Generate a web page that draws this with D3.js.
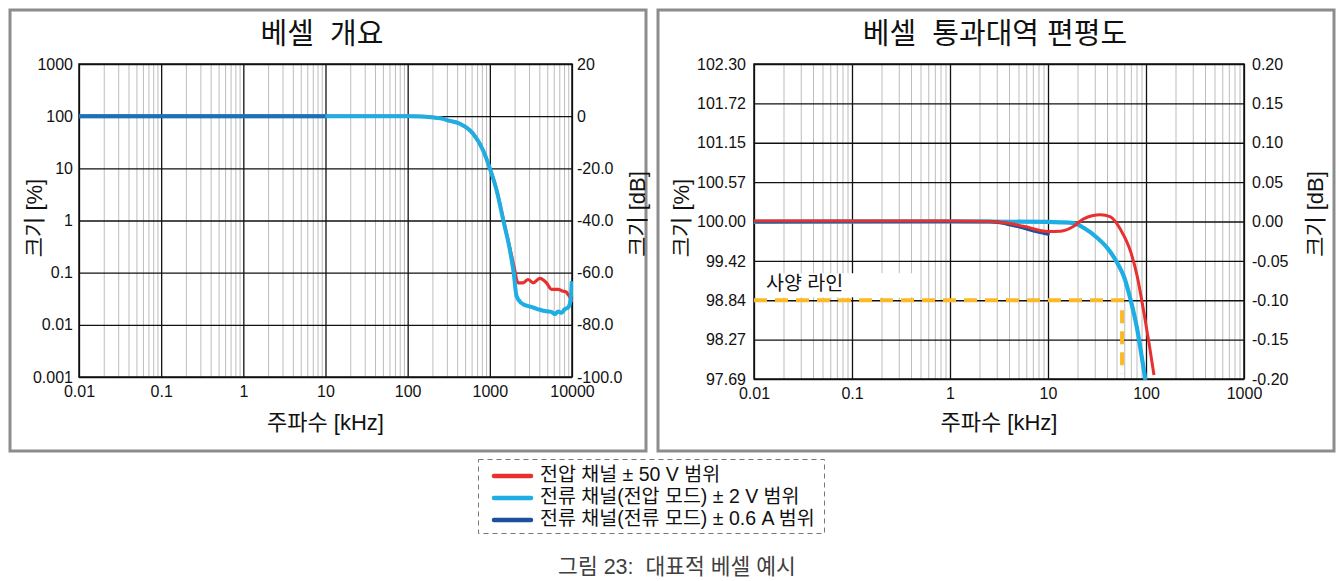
<!DOCTYPE html>
<html><head><meta charset="utf-8">
<script src="https://cdn.jsdelivr.net/npm/d3@7"></script>
<style>
body{margin:0;background:#fff;}
svg text{font-family:"Liberation Sans",Arial,"Noto Sans CJK KR",sans-serif;fill:#111;white-space:pre;}
</style></head><body><svg id="c" width="1339" height="581"></svg>
<script>
// ---------- data ----------
const leftFreqTicks = [0.01, 0.1, 1, 10, 100, 1000, 10000];
const leftFreqLabels = ["0.01", "0.1", "1", "10", "100", "1000", "10000"];
const leftPctTicks = [1000, 100, 10, 1, 0.1, 0.01, 0.001];
const leftPctLabels = ["1000", "100", "10", "1", "0.1", "0.01", "0.001"];
const leftDbTicks = [20, 0, -20, -40, -60, -80, -100];
const leftDbLabels = ["20", "0", "-20.0", "-40.0", "-60.0", "-80.0", "-100.0"];

const rightFreqTicks = [0.01, 0.1, 1, 10, 100, 1000];
const rightFreqLabels = ["0.01", "0.1", "1", "10", "100", "1000"];
const rightDbTicks = [0.2, 0.15, 0.1, 0.05, 0, -0.05, -0.1, -0.15, -0.2];
const rightDbLabels = ["0.20", "0.15", "0.10", "0.05", "0.00", "-0.05", "-0.10", "-0.15", "-0.20"];
const rightPctLabels = ["102.30", "101.72", "101.15", "100.57", "100.00", "99.42", "98.84", "98.27", "97.69"];

// overview (kHz, %)
const ovRedFreq = [0.01, 1, 10, 100, 142, 205, 270, 310, 431, 627, 829, 1000, 1207, 1453, 1750, 2013, 2110, 2210, 2540, 2920, 3367, 4058, 4893, 5630, 6780, 7800, 8400, 8970, 9600, 10000];
const ovRedPct  = [100, 100, 100, 99.8, 99, 94.5, 89, 82.8, 71.6, 46, 22, 10, 3.9, 1.1, 0.3, 0.11, 0.075, 0.064, 0.064, 0.074, 0.064, 0.078, 0.064, 0.048, 0.048, 0.044, 0.043, 0.038, 0.032, 0.027];
const ovLightFreq = [0.01, 1, 10, 100, 142, 205, 270, 310, 431, 627, 829, 1000, 1207, 1453, 1750, 1950, 2113, 2430, 2797, 3367, 4058, 4893, 5630, 6180, 6780, 7450, 8170, 8970, 9600, 9950];
const ovLightPct  = [100, 100, 100, 99.8, 99, 94.5, 89, 82.8, 71.6, 46, 22, 10, 3.85, 1.03, 0.277, 0.1, 0.0357, 0.026, 0.0233, 0.0215, 0.0195, 0.0182, 0.0177, 0.016, 0.018, 0.017, 0.02, 0.0215, 0.0295, 0.069];
const ovDarkFreq = [0.01, 1, 10];
const ovDarkPct  = [100, 100, 100];

// flatness (kHz, dB)
const flRedFreq = [0.01, 1, 2.5, 3.8, 5.6, 10, 13.4, 18.3, 23.1, 34.3, 43.4, 55, 69.5, 81.4, 95.3, 107.2, 120.6];
const flRedDb   = [0.0005, 0.0005, 0, -0.002, -0.006, -0.0127, -0.0123, -0.006, 0.0034, 0.0085, 0.006, -0.0102, -0.0378, -0.0696, -0.116, -0.154, -0.195];
const flLightFreq = [0.01, 1, 10, 13.4, 18.3, 23.1, 31.7, 40.2, 50.8, 59.4, 69.5, 81.4, 91.6, 98.6];
const flLightDb   = [-0.0005, 0, -0.0005, -0.001, -0.002, -0.008, -0.0207, -0.0335, -0.0525, -0.0696, -0.099, -0.137, -0.176, -0.201];
const flDarkFreq = [0.01, 1, 2.57, 3.8, 5.6, 7.7, 10];
const flDarkDb   = [0, 0, 0, -0.003, -0.008, -0.0127, -0.0157];
const specFreq = [0.01, 57, 57];
const specDb   = [-0.1, -0.1, -0.193];

const legendLabels = ["전압 채널 ± 50 V 범위", "전류 채널(전압 모드) ± 2 V 범위", "전류 채널(전류 모드) ± 0.6 A 범위"];
const seriesColors = ["#E8302F", "#1EAEE4", "#1F4F9C"];
const titles = ["베셀  개요", "베셀  통과대역 편평도"];
const xTitle = "주파수 [kHz]";
const yTitleL = "크기 [%]";
const yTitleR = "크기 [dB]";
const caption = "그림 23:  대표적 베셀 예시";

// ---------- drawing ----------
const svg = d3.select("#c");
const zip = (a, b) => a.map((v, i) => [v, b[i]]);

function minorTicks(lo, hi) {
  const out = [];
  for (let e = Math.round(Math.log10(lo)); e < Math.round(Math.log10(hi)); e++)
    for (let m = 2; m <= 9; m++) out.push(m * Math.pow(10, e));
  return out;
}

function panel(o) {
  const g = svg.append("g");
  g.append("rect").attr("x", o.box[0]).attr("y", o.box[1]).attr("width", o.box[2]).attr("height", o.box[3])
    .attr("fill", "#fff").attr("stroke", "#8c8c8c").attr("stroke-width", 3);
  const x = d3.scaleLog().domain(o.xDom).range([o.L, o.R]);
  const w = o.R - o.L, h = o.B - o.T;
  const gm = g.append("g").attr("transform", `translate(0,${o.B})`)
    .call(d3.axisBottom(x).tickValues(minorTicks(o.xDom[0], o.xDom[1])).tickSize(-h).tickFormat(""));
  gm.select(".domain").remove();
  gm.selectAll("line").attr("stroke", "#bdbdbd").attr("stroke-width", 1);
  const gM = g.append("g").attr("transform", `translate(0,${o.B})`)
    .call(d3.axisBottom(x).tickValues(o.xTicks).tickSize(-h).tickFormat(""));
  gM.select(".domain").remove();
  gM.selectAll("line").attr("stroke", "#111").attr("stroke-width", 1.3);
  const gH = g.append("g").attr("transform", `translate(${o.L},0)`)
    .call(d3.axisLeft(o.yR).tickValues(o.yRTicks).tickSize(-w).tickFormat(""));
  gH.select(".domain").remove();
  gH.selectAll("line").attr("stroke", "#111").attr("stroke-width", 1.3);
  g.append("rect").attr("x", o.L).attr("y", o.T).attr("width", w).attr("height", h)
    .attr("fill", "none").attr("stroke", "#111").attr("stroke-width", 1.5);
  const ax = g.append("g").attr("transform", `translate(0,${o.B})`)
    .call(d3.axisBottom(x).tickValues(o.xTicks).tickFormat((d, i) => o.xLabels[i]).tickSize(0).tickPadding(9));
  ax.select(".domain").remove();
  ax.selectAll("text").attr("font-size", 16).attr("fill", "#111");
  const ay = g.append("g").attr("transform", `translate(${o.L},0)`)
    .call(d3.axisLeft(o.yL).tickValues(o.yLTicks).tickFormat((d, i) => o.yLLabels[i]).tickSize(0).tickPadding(o.padL));
  ay.select(".domain").remove();
  ay.selectAll("text").attr("font-size", 16).attr("fill", "#111");
  const ar = g.append("g").attr("transform", `translate(${o.R},0)`)
    .call(d3.axisRight(o.yR).tickValues(o.yRTicks).tickFormat((d, i) => o.yRLabels[i]).tickSize(0).tickPadding(o.padR));
  ar.select(".domain").remove();
  ar.selectAll("text").attr("font-size", 16).attr("fill", "#111");
  g.append("text").attr("x", o.titleX).attr("y", 36).attr("text-anchor", "middle").attr("dominant-baseline", "middle")
    .attr("font-size", 29).text(o.title);
  g.append("text").attr("x", (o.L + o.R) / 2).attr("y", 424).attr("text-anchor", "middle").attr("dominant-baseline", "middle")
    .attr("font-size", 22).text(xTitle);
  g.append("text").attr("transform", `translate(${o.yTitleLX},${o.yTitleY}) rotate(-90)`).attr("text-anchor", "middle")
    .attr("dominant-baseline", "middle").attr("font-size", 22).text(yTitleL);
  g.append("text").attr("transform", `translate(${o.yTitleRX},${o.yTitleY - 4}) rotate(-90)`).attr("text-anchor", "middle")
    .attr("dominant-baseline", "middle").attr("font-size", 22).text(yTitleR);
  const id = "clip" + o.id;
  svg.append("clipPath").attr("id", id).append("rect").attr("x", o.L).attr("y", o.T - 2).attr("width", w + 1).attr("height", h + 4);
  const s = g.append("g").attr("clip-path", `url(#${id})`);
  return { x, s };
}

// left panel
const yLpct = d3.scaleLog().domain([0.001, 1000]).range([377, 64]);
const yLdb = d3.scaleLinear().domain([-100, 20]).range([377, 64]);
const P1 = panel({ id: 1, box: [10, 10, 636, 441], L: 79, R: 572, T: 64, B: 377, xDom: [0.01, 10000],
  xTicks: leftFreqTicks, xLabels: leftFreqLabels, yL: yLpct, yLTicks: leftPctTicks, yLLabels: leftPctLabels,
  yR: yLdb, yRTicks: leftDbTicks, yRLabels: leftDbLabels, padL: 6, padR: 5, title: titles[0], titleX: 322,
  yTitleLX: 36, yTitleRX: 639, yTitleY: 218 });
const lineL = d3.line().x(d => P1.x(d[0])).y(d => yLpct(d[1])).curve(d3.curveMonotoneX);
P1.s.append("path").datum(zip(ovRedFreq, ovRedPct)).attr("d", lineL).attr("fill", "none")
  .attr("stroke", seriesColors[0]).attr("stroke-width", 3.2).attr("stroke-linejoin", "round");
P1.s.append("path").datum(zip(ovLightFreq, ovLightPct)).attr("d", lineL).attr("fill", "none")
  .attr("stroke", seriesColors[1]).attr("stroke-width", 4).attr("stroke-linejoin", "round");
P1.s.append("path").datum(zip(ovDarkFreq, ovDarkPct)).attr("d", lineL).attr("fill", "none")
  .attr("stroke", seriesColors[2]).attr("stroke-opacity", 0.65).attr("stroke-width", 4);

// right panel
const yRdb = d3.scaleLinear().domain([-0.2, 0.2]).range([379, 64]);
const P2 = panel({ id: 2, box: [658, 10, 676, 441], L: 754, R: 1244, T: 64, B: 379, xDom: [0.01, 1000],
  xTicks: rightFreqTicks, xLabels: rightFreqLabels, yL: yRdb, yLTicks: rightDbTicks, yLLabels: rightPctLabels,
  yR: yRdb, yRTicks: rightDbTicks, yRLabels: rightDbLabels, padL: 8, padR: 8, title: titles[1], titleX: 995,
  yTitleLX: 683, yTitleRX: 1317, yTitleY: 218 });
const lineR = d3.line().x(d => P2.x(d[0])).y(d => yRdb(d[1])).curve(d3.curveMonotoneX);

const specTextX = P2.x(0.01) + 12, specTextY = yRdb(-0.1) - 15;
P2.s.append("rect").attr("x", P2.x(0.01) + 6).attr("y", specTextY - 12).attr("width", 152).attr("height", 24).attr("fill", "#fff");
P2.s.append("text").attr("x", specTextX).attr("y", specTextY).attr("dominant-baseline", "middle")
  .attr("font-size", 19.5).text("사양 라인");
P2.s.append("path").datum(zip(specFreq, specDb)).attr("d", d3.line().x(d => P2.x(d[0])).y(d => yRdb(d[1])))
  .attr("fill", "none").attr("stroke", "#FBB927").attr("stroke-width", 4).attr("stroke-dasharray", "13,8");

P2.s.append("path").datum(zip(flLightFreq, flLightDb)).attr("d", lineR).attr("fill", "none")
  .attr("stroke", seriesColors[1]).attr("stroke-width", 4.2);
P2.s.append("path").datum(zip(flDarkFreq, flDarkDb)).attr("d", lineR).attr("fill", "none")
  .attr("stroke", seriesColors[2]).attr("stroke-width", 3.6).attr("stroke-linecap", "round");
P2.s.append("path").datum(zip(flRedFreq, flRedDb)).attr("d", lineR).attr("fill", "none")
  .attr("stroke", seriesColors[0]).attr("stroke-width", 3);

// legend
const lg = svg.append("g");
lg.append("rect").attr("x", 478.5).attr("y", 459.5).attr("width", 346).attr("height", 74)
  .attr("fill", "none").attr("stroke", "#777").attr("stroke-width", 1).attr("stroke-dasharray", "5,4");
const ly = d3.scalePoint().domain(legendLabels).range([476, 520]);
legendLabels.forEach((t, i) => {
  lg.append("line").attr("x1", 494).attr("x2", 531).attr("y1", ly(t)).attr("y2", ly(t))
    .attr("stroke", seriesColors[i]).attr("stroke-width", 4.5).attr("stroke-linecap", "round");
  lg.append("text").attr("x", 540).attr("y", ly(t)).attr("dominant-baseline", "middle").attr("font-size", 19.5).text(t);
});

svg.append("text").attr("x", 677).attr("y", 568).attr("text-anchor", "middle").attr("dominant-baseline", "middle")
  .attr("font-size", 21.5).style("fill", "#404040").text(caption);
</script></body></html>
